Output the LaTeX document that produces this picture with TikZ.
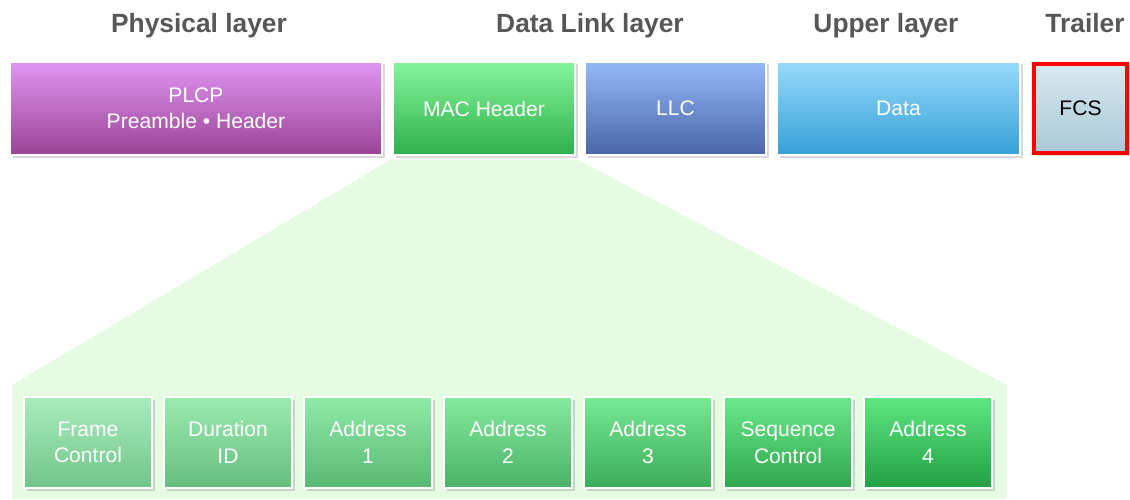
\documentclass[tikz,border=0pt]{standalone}
\usepackage{fontspec}
\setmainfont{Liberation Sans}
\usepackage{xcolor}
\usetikzlibrary{positioning,shadows,backgrounds}
\definecolor{headgray}{HTML}{575757}
\definecolor{plcptop}{HTML}{DF94F0}
\definecolor{plcpbot}{HTML}{9A4496}
\definecolor{mactop}{HTML}{86F59A}
\definecolor{macbot}{HTML}{2DB04B}
\definecolor{llctop}{HTML}{93B9F8}
\definecolor{llcbot}{HTML}{4A65A7}
\definecolor{datatop}{HTML}{97DAFA}
\definecolor{databot}{HTML}{35A0D8}
\definecolor{fcstop}{HTML}{D8E8EE}
\definecolor{fcsbot}{HTML}{A8C9D8}
\definecolor{fcsred}{HTML}{FF0000}
\definecolor{fanfill}{HTML}{E5FCE3}
\definecolor{fieldtopL}{HTML}{A8ECBB}
\definecolor{fieldbotL}{HTML}{72C48A}
\definecolor{fieldtopR}{HTML}{5EE881}
\definecolor{fieldbotR}{HTML}{21A043}

\begin{document}
\begin{tikzpicture}[
  layerbox/.style={draw=white,line width=0.7pt,outer sep=0pt,minimum height=1.86cm,align=center,text=white,
    font=\fontsize{12}{15}\selectfont,drop shadow={opacity=0.3,shadow xshift=0.05cm,shadow yshift=-0.05cm}},
  field/.style={layerbox,minimum width=2.56cm,minimum height=1.82cm,text depth=-0.15cm},
  heading/.style={anchor=base,text=headgray,font=\bfseries\fontsize{15}{18}\selectfont}
]
  \useasboundingbox (0,0) rectangle (22.6,9.98);
  % headings
  \node[heading] (physhead) at (3.98,9.32) {Physical layer};
  \node[heading] (linkhead) at (11.8,9.32) {Data Link layer};
  \node[heading] (upperhead) at (17.72,9.32) {Upper layer};
  \node[heading] (trailhead) at (21.7,9.32) {Trailer};
  % frame
  \node[layerbox,minimum width=7.44cm,top color=plcptop,bottom color=plcpbot] (plcp) at (3.92,7.81) {PLCP\\Preamble • Header};
  \node[layerbox,minimum width=3.64cm,top color=mactop,bottom color=macbot,right=0.22cm of plcp] (mac) {MAC Header};
  \node[layerbox,minimum width=3.62cm,top color=llctop,bottom color=llcbot,right=0.2cm of mac] (llc) {LLC};
  \node[layerbox,minimum width=4.86cm,top color=datatop,bottom color=databot,right=0.22cm of llc] (data) {Data};
  \node[layerbox,minimum width=1.86cm,minimum height=1.78cm,draw=fcsred,line width=2.2pt,text=black,
    top color=fcstop,bottom color=fcsbot,right=0.28cm of data] (fcs) {FCS};
  % MAC header fields
  \node[field,top color=fieldtopL,bottom color=fieldbotL] (fc) at (1.76,1.13) {Frame\\Control};
  \node[field,top color=fieldtopR!17!fieldtopL,bottom color=fieldbotR!17!fieldbotL,right=0.24cm of fc] (dur) {Duration\\ID};
  \node[field,top color=fieldtopR!33!fieldtopL,bottom color=fieldbotR!33!fieldbotL,right=0.24cm of dur] (addra) {Address\\1};
  \node[field,top color=fieldtopR!50!fieldtopL,bottom color=fieldbotR!50!fieldbotL,right=0.24cm of addra] (addrb) {Address\\2};
  \node[field,top color=fieldtopR!67!fieldtopL,bottom color=fieldbotR!67!fieldbotL,right=0.24cm of addrb] (addrc) {Address\\3};
  \node[field,top color=fieldtopR!83!fieldtopL,bottom color=fieldbotR!83!fieldbotL,right=0.24cm of addrc] (seq) {Sequence\\Control};
  \node[field,top color=fieldtopR,bottom color=fieldbotR,right=0.24cm of seq] (addrd) {Address\\4};
  % zoom-out fan behind the fields
  \coordinate (fanleft) at (0.24,2.28);
  \coordinate (fanright) at (20.14,2.28);
  \begin{scope}[on background layer]
    \fill[fanfill] ([xshift=-0.06cm,yshift=-0.1cm]mac.south west) -- (fanleft) -- (fanleft |- 0,0)
      -- (fanright |- 0,0) -- (fanright) -- ([xshift=0.06cm,yshift=-0.1cm]mac.south east) -- cycle;
  \end{scope}
\end{tikzpicture}
\end{document}
